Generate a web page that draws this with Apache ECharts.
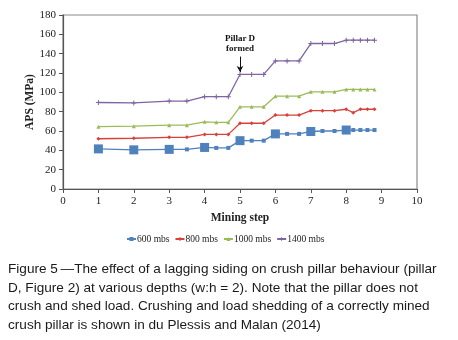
<!DOCTYPE html>
<html><head><meta charset="utf-8">
<script src="https://cdn.jsdelivr.net/npm/echarts@6/dist/echarts.min.js"></script>
<style>html,body{margin:0;padding:0;background:#fff}#c{width:458px;height:340px}</style>
</head><body><div id="c"></div>
<script>
const steps = [1,2,3,3.5,4,4.33,4.67,5,5.33,5.67,6,6.33,6.67,7,7.33,7.67,8,8.2,8.4,8.6,8.8];
const s600  = [41.5,40.5,41,41,43,42.5,42.5,50,50,50,57,57,57,59.5,60,60,61,61,61,61,61];
const s800  = [52,52.5,53.5,53.5,56.5,56.5,56.5,68,68,68,76.5,76.5,76.5,81,81,81,82.5,79,82.5,82.5,82.5];
const s1000 = [64.5,65,66,66,69.5,69,69,85,85,85,96,96,96,100.5,100.5,100.5,103,103,103,103,103];
const s1400 = [89.5,89,91,91,95.5,95.5,95.5,118.5,118.5,118.5,132.5,132.5,132.5,150.5,150.5,150.5,154,154,154,154,154];
const seriesNames = ['600 mbs','800 mbs','1000 mbs','1400 mbs'];
const xTicks = [0,1,2,3,4,5,6,7,8,9,10];
const annotation = {text: 'Pillar D\nformed', step: 5, labelAt: 150, arrowFrom: 137, arrowTo: 121};
const captionLines = [
  'Figure 5\u2009\u2014The effect of a lagging siding on crush pillar behaviour (pillar',
  'D, Figure 2) at various depths (w:h = 2). Note that the pillar does not',
  'crush and shed load. Crushing and load shedding of a correctly mined',
  'crush pillar is shown in du Plessis and Malan (2014)'
];

const pair = arr => steps.map((x,i)=>[x,arr[i]]);
const serif = '"Liberation Serif","Times New Roman",serif';
const colors = ['#4F81BD','#D8403A','#9BBB59','#8064A2'];
const plus = 'path://M4,0h2v10h-2zM0,4h10v2h-10z';

const chart = echarts.init(document.getElementById('c'), null, {renderer:'canvas'});
const mk = (name, data, color, symbol, size, extra) => Object.assign({
  name, type:'line', data: pair(data), symbol, symbolSize: size,
  lineStyle:{color, width:1.3}, itemStyle:{color}, animation:false
}, extra||{});

chart.setOption({
  animation:false,
  grid:{left:63, right:41, top:15, bottom:151, show:true, borderColor:'#8a8a8a', borderWidth:1.2, backgroundColor:'transparent'},
  xAxis:{type:'value', min:0, max:10, interval:1,
    name:'Mining step', nameLocation:'middle', nameGap:21,
    nameTextStyle:{fontFamily:serif, fontWeight:'bold', fontSize:11.5, color:'#222'},
    axisLine:{show:true, lineStyle:{color:'#555', width:1.2}},
    axisTick:{show:true, length:4, lineStyle:{color:'#555'}},
    axisLabel:{fontFamily:serif, fontSize:11, color:'#222', margin:7,
      customValues: xTicks},
    splitLine:{show:false}},
  yAxis:{type:'value', min:0, max:180, interval:20,
    name:'APS (MPa)', nameLocation:'middle', nameGap:27, nameRotate:90, nameMoveOverlap:false,
    nameTextStyle:{fontFamily:serif, fontWeight:'bold', fontSize:11.5, color:'#222'},
    axisLine:{show:true, lineStyle:{color:'#555', width:1.2}},
    axisTick:{show:true, length:4, lineStyle:{color:'#555'}},
    axisLabel:{fontFamily:serif, fontSize:11, color:'#222', margin:7},
    splitLine:{show:false}},
  legend:{top:229, left:121, itemGap:5, itemWidth:9, itemHeight:5,
    textStyle:{fontFamily:serif, fontSize:9.5, color:'#222', padding:[0,0,0,-4]},
    data: seriesNames},
  series:[
    mk(seriesNames[0], s600, colors[0], 'rect', (v)=> Number.isInteger(v[0]) ? 9 : 4),
    mk(seriesNames[1], s800, colors[1], 'diamond', 4),
    mk(seriesNames[2], s1000, colors[2], 'triangle', 4),
    mk(seriesNames[3], s1400, colors[3], plus, 5, {
      markLine:{silent:true, symbol:['none','arrow'], symbolSize:[5,6],
        lineStyle:{color:'#111', width:1, type:'solid'}, label:{show:false},
        data:[[{coord:[annotation.step, annotation.arrowFrom]},{coord:[annotation.step, annotation.arrowTo]}]]},
      markPoint:{silent:true, symbol:'circle', symbolSize:0,
        label:{show:true, formatter: annotation.text, fontFamily:serif, fontWeight:'bold', fontSize:9, color:'#111', lineHeight:10},
        data:[{coord:[annotation.step, annotation.labelAt]}]}
    })
  ],
  graphic: captionLines.map((t,i)=>({
    type:'text', left:8, top:262 + i*18.8,
    style:{text:t, font:'13.6px "Liberation Sans", Arial, sans-serif', fill:'#1a1a1a'}
  }))
});
</script></body></html>
